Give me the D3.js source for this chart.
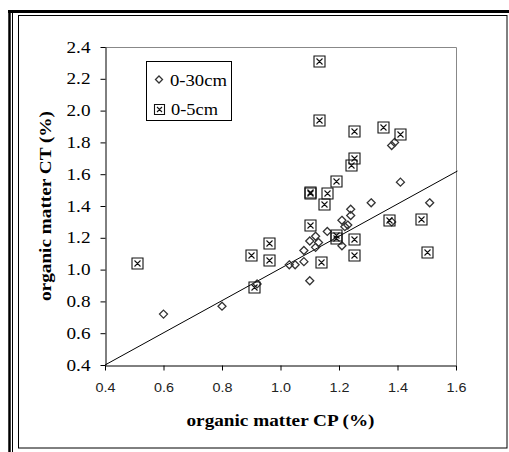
<!DOCTYPE html>
<html>
<head>
<meta charset="utf-8">
<script src="https://cdn.jsdelivr.net/npm/d3@7/dist/d3.min.js"></script>
<style>
  html, body { margin: 0; padding: 0; background: #fff; }
  svg { display: block; }
</style>
</head>
<body>
<svg id="chart" width="509" height="452"></svg>
<script>
// Organic matter under conventional tillage (CT) vs. conservation practice (CP)
const xTicks = [0.4, 0.6, 0.8, 1.0, 1.2, 1.4, 1.6];
const yTicks = [0.4, 0.6, 0.8, 1.0, 1.2, 1.4, 1.6, 1.8, 2.0, 2.2, 2.4];

// 0-30 cm layer (diamonds)
const depth30cmCP = [0.60, 0.80, 0.92, 1.03, 1.05, 1.08, 1.08, 1.10, 1.10, 1.12, 1.13, 1.12, 1.16,
                     1.21, 1.22, 1.23, 1.21, 1.24, 1.24, 1.31, 1.38, 1.38, 1.39, 1.41, 1.51];
const depth30cmCT = [0.72, 0.77, 0.91, 1.03, 1.03, 1.05, 1.12, 0.93, 1.18, 1.14, 1.17, 1.21, 1.24,
                     1.31, 1.27, 1.28, 1.15, 1.34, 1.38, 1.42, 1.30, 1.78, 1.80, 1.55, 1.42];

// 0-5 cm layer (crossed squares)
const depth5cmCP = [0.51, 0.90, 0.91, 0.96, 0.96, 1.10, 1.10, 1.10, 1.14, 1.15, 1.16, 1.19, 1.19,
                    1.19, 1.13, 1.13, 1.24, 1.25, 1.25, 1.25, 1.25, 1.35, 1.41, 1.37, 1.48, 1.50];
const depth5cmCT = [1.04, 1.09, 0.89, 1.17, 1.06, 1.28, 1.48, 1.49, 1.05, 1.41, 1.48, 1.56, 1.20,
                    1.22, 1.94, 2.31, 1.66, 1.70, 1.87, 1.19, 1.09, 1.90, 1.85, 1.31, 1.32, 1.11];

// Fitted trend line end points (CP, CT)
const trendCP = [0.4, 1.605];
const trendCT = [0.4, 1.62];

const legendLabels = ["0-30cm", "0-5cm"];

const serif = "'Liberation Serif', 'Times New Roman', serif";
const sans = "'Liberation Sans', Arial, sans-serif";

const svg = d3.select("#chart");

// Page frame: heavy top/left rules plus thin inner box
svg.append("rect").attr("x", 18.5).attr("y", 15.5).attr("width", 488.5).attr("height", 432.5)
  .attr("fill", "none").attr("stroke", "#000").attr("stroke-width", 1);
svg.append("line").attr("x1", 8).attr("x2", 509).attr("y1", 11.5).attr("y2", 11.5)
  .attr("stroke", "#000").attr("stroke-width", 3);
svg.append("line").attr("x1", 9.5).attr("x2", 9.5).attr("y1", 10).attr("y2", 452)
  .attr("stroke", "#000").attr("stroke-width", 2.5);
svg.append("line").attr("x1", 12.5).attr("x2", 12.5).attr("y1", 13).attr("y2", 452)
  .attr("stroke", "#000").attr("stroke-width", 1);

const x = d3.scaleLinear().domain([0.4, 1.6]).range([105, 456]);
const y = d3.scaleLinear().domain([0.4, 2.4]).range([365, 47]);

// Plot area top and right borders
svg.append("path")
  .attr("d", `M${x(0.4)},${y(2.4) + 0.5}H${x(1.6) + 0.5}V${y(0.4)}`)
  .attr("fill", "none").attr("stroke", "#888").attr("stroke-width", 1);

// Axes
const xAxis = svg.append("g").attr("transform", `translate(0,${y(0.4) + 0.5})`)
  .call(d3.axisBottom(x).tickValues(xTicks).tickSize(5).tickSizeOuter(0).tickPadding(12)
    .tickFormat(d3.format(".1f")));
xAxis.select(".domain").attr("stroke", "#000");
xAxis.selectAll(".tick line").attr("stroke", "#000");
xAxis.selectAll("text").attr("font-family", sans)
  .attr("font-size", 13.5).attr("fill", "#222")
  .attr("textLength", 20).attr("lengthAdjust", "spacingAndGlyphs");

const yAxis = svg.append("g").attr("transform", `translate(${x(0.4) + 0.5},0)`)
  .call(d3.axisLeft(y).tickValues(yTicks).tickSize(5).tickSizeOuter(0).tickPadding(10)
    .tickFormat(d3.format(".1f")));
yAxis.select(".domain").attr("stroke", "#000");
yAxis.selectAll(".tick line").attr("stroke", "#000");
yAxis.selectAll("text").attr("font-family", serif)
  .attr("font-size", 16).attr("fill", "#000")
  .attr("textLength", 24).attr("lengthAdjust", "spacingAndGlyphs");

// Axis titles
svg.append("text").attr("x", (x(0.4) + x(1.6)) / 2).attr("y", 426)
  .attr("text-anchor", "middle").attr("font-family", serif)
  .attr("font-weight", "bold").attr("font-size", 17.5)
  .attr("textLength", 188).attr("lengthAdjust", "spacingAndGlyphs")
  .text("organic matter CP (%)");
svg.append("text").attr("transform", `translate(51,${(y(0.4) + y(2.4)) / 2}) rotate(-90)`)
  .attr("text-anchor", "middle").attr("font-family", serif)
  .attr("font-weight", "bold").attr("font-size", 17.5)
  .attr("textLength", 190).attr("lengthAdjust", "spacingAndGlyphs")
  .text("organic matter CT (%)");

// Trend line
svg.append("line")
  .attr("x1", x(trendCP[0])).attr("y1", y(trendCT[0]))
  .attr("x2", x(trendCP[1])).attr("y2", y(trendCT[1]))
  .attr("stroke", "#000").attr("stroke-width", 1);

const diamondPath = (cx, cy, r) => `M${cx},${cy - r}L${cx + r},${cy}L${cx},${cy + r}L${cx - r},${cy}Z`;
const crossSquarePath = (cx, cy, h) =>
  `M${cx - h},${cy - h}H${cx + h}V${cy + h}H${cx - h}Z` +
  `M${cx - h + 2.5},${cy - h + 2.5}L${cx + h - 2.5},${cy + h - 2.5}` +
  `M${cx + h - 2.5},${cy - h + 2.5}L${cx - h + 2.5},${cy + h - 2.5}`;

const d30 = depth30cmCP.map((v, i) => [v, depth30cmCT[i]]);
const d5 = depth5cmCP.map((v, i) => [v, depth5cmCT[i]]);

svg.append("g").selectAll("path").data(d30).join("path")
  .attr("d", d => diamondPath(x(d[0]), y(d[1]), 4))
  .attr("fill", "none").attr("stroke", "#333").attr("stroke-width", 1.3);

svg.append("g").selectAll("path").data(d5).join("path")
  .attr("d", d => crossSquarePath(Math.round(x(d[0])) + 0.5, Math.round(y(d[1])) + 0.5, 5.5))
  .attr("fill", "none").attr("stroke", "#111").attr("stroke-width", 1.1);

// Legend
const lg = svg.append("g");
lg.append("rect").attr("x", 146.5).attr("y", 61.5).attr("width", 85).attr("height", 59)
  .attr("fill", "#fff").attr("stroke", "#000").attr("stroke-width", 1);
lg.append("path").attr("d", diamondPath(159, 79.5, 3.5))
  .attr("fill", "none").attr("stroke", "#333").attr("stroke-width", 1.3);
lg.append("path").attr("d", crossSquarePath(159.5, 109.5, 5))
  .attr("fill", "none").attr("stroke", "#111").attr("stroke-width", 1.1);
lg.selectAll("text.lbl").data(legendLabels).join("text")
  .attr("class", "lbl")
  .attr("x", (d, i) => i === 0 ? 170 : 171)
  .attr("y", (d, i) => i === 0 ? 85.5 : 115)
  .attr("font-family", serif)
  .attr("font-size", 17)
  .attr("textLength", (d, i) => i === 0 ? 57 : 47)
  .attr("lengthAdjust", "spacingAndGlyphs")
  .attr("fill", "#000").text(d => d);
</script>
</body>
</html>
